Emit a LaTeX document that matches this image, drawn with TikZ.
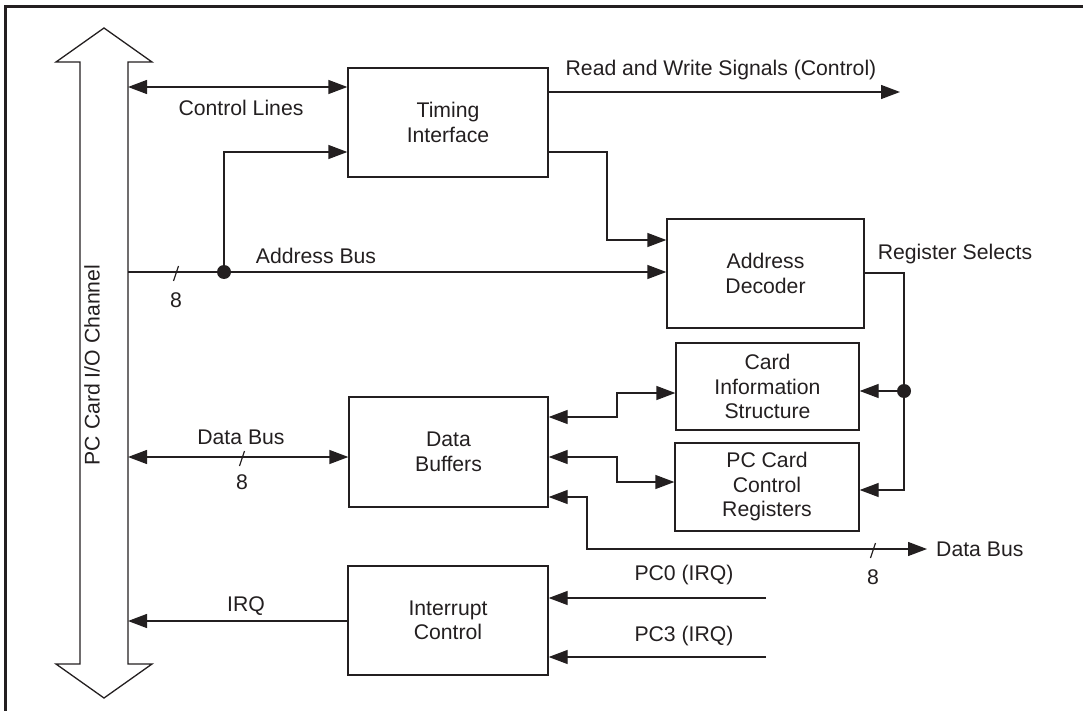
\documentclass[tikz,border=0pt]{standalone}
\usepackage{fontspec}
\setmainfont{Liberation Sans}
\usetikzlibrary{arrows.meta}
\definecolor{ink}{HTML}{231F20}
\tikzset{
  box/.style={draw=ink, line width=1.3pt, inner sep=0pt, align=center, text=ink},
  lbl/.style={inner sep=0pt, text=ink},
  wire/.style={draw=ink, line width=1.3pt},
  tip/.style={-{Triangle[length=19pt,width=14pt]}},
  tipb/.style={{Triangle[length=19pt,width=14pt]}-{Triangle[length=19pt,width=14pt]}},
  slash/.style={draw=ink, line width=1.2pt},
}
\begin{document}
\begin{tikzpicture}[x=1pt,y=-1pt, font=\fontsize{21.2}{24.5}\selectfont]
\useasboundingbox (0,0) rectangle (1083,711);
% frame (top and left edges)
\draw[ink, line width=3pt] (1083,7) -- (5,7) -- (5,711);
% big double arrow
\draw[ink, line width=1.3pt, line join=miter] (80,62) -- (56,62) -- (104,28) -- (152,62) -- (128,62) -- (128,664) -- (152,664) -- (104,698) -- (56,664) -- (80,664) -- cycle;
\node[lbl, rotate=90] (chan) at (92,365) {PC Card I/O Channel};
% boxes
\node[box, minimum width=200pt, minimum height=109pt] (tim) at (448,122.5) {Timing\\Interface};
\node[box, minimum width=197pt, minimum height=109pt] (dec) at (765.5,273.5) {Address\\Decoder};
\node[box, minimum width=183pt, minimum height=87pt] (cis) at (767.5,386.5) {Card\\Information\\Structure};
\node[box, minimum width=184pt, minimum height=88pt] (pcr) at (767,487) {PC Card\\Control\\Registers};
\node[box, minimum width=199pt, minimum height=110pt] (db) at (448.5,452) {Data\\Buffers};
\node[box, minimum width=200pt, minimum height=109pt] (ic) at (448,620.5) {Interrupt\\Control};
% coordinates
\coordinate (adot) at (224,272);
\coordinate (rdot) at (904,391);
\coordinate (rwend) at (900,92);
\coordinate (dbend) at (927,549);
\coordinate (pc0) at (766,598);
\coordinate (pc3) at (766,657);
% control lines
\draw[wire, tipb] (128,87) -- (tim.west |- 0,87);
\node[lbl] (cl) at (241,108) {Control Lines};
% read/write
\draw[wire, tip] (tim.east |- 0,92) -- (rwend);
\node[lbl] (rw) at (721,70) {Read and Write Signals (Control)};
% timing -> decoder
\draw[wire, tip] (tim.east |- 0,152) -| (607,240) -- (dec.west |- 0,240);
% address bus
\draw[wire, tip] (128,272) -- (dec.west |- 0,272);
\draw[wire, tip] (adot) |- (tim.west |- 0,152);
\fill[ink] (adot) circle (7pt);
\draw[slash] (173.5,281) -- (178.5,266);
\node[lbl] (a8) at (176,300) {8};
\node[lbl] (ab) at (316,256) {Address Bus};
% register selects
\draw[wire, tip] (dec.east |- 0,273) -| (904,490) -- (pcr.east |- 0,490);
\fill[ink] (rdot) circle (7pt);
\draw[wire, tip] (rdot) -- (cis.east |- rdot);
\node[lbl] (rs) at (955,254) {Register Selects};
% data buffers to CIS / PCR
\draw[wire, tipb] (db.east |- 0,417) -- (617,417) |- (cis.west |- 0,393);
\draw[wire, tipb] (db.east |- 0,457) -- (617,457) |- (pcr.west |- 0,482);
% data bus out
\draw[wire, tipb] (db.east |- 0,497) -- (587,497) |- (dbend);
\draw[slash] (870.5,558) -- (875.5,543);
\node[lbl] (d8r) at (873,577) {8};
\node[lbl, anchor=west] (dbr) at (936,549) {Data Bus};
% data bus left
\draw[wire, tipb] (128,457) -- (db.west |- 0,457);
\draw[slash] (239.5,466) -- (244.5,451);
\node[lbl] (dbl) at (241,437) {Data Bus};
\node[lbl] (d8l) at (242,482) {8};
% interrupts
\draw[wire, tip] (ic.west |- 0,621) -- (128,621);
\node[lbl] (irq) at (246,606) {IRQ};
\draw[wire, tip] (pc0) -- (ic.east |- pc0);
\draw[wire, tip] (pc3) -- (ic.east |- pc3);
\node[lbl] (pc0l) at (684,575) {PC0 (IRQ)};
\node[lbl] (pc3l) at (684,636) {PC3 (IRQ)};
\end{tikzpicture}
\end{document}
